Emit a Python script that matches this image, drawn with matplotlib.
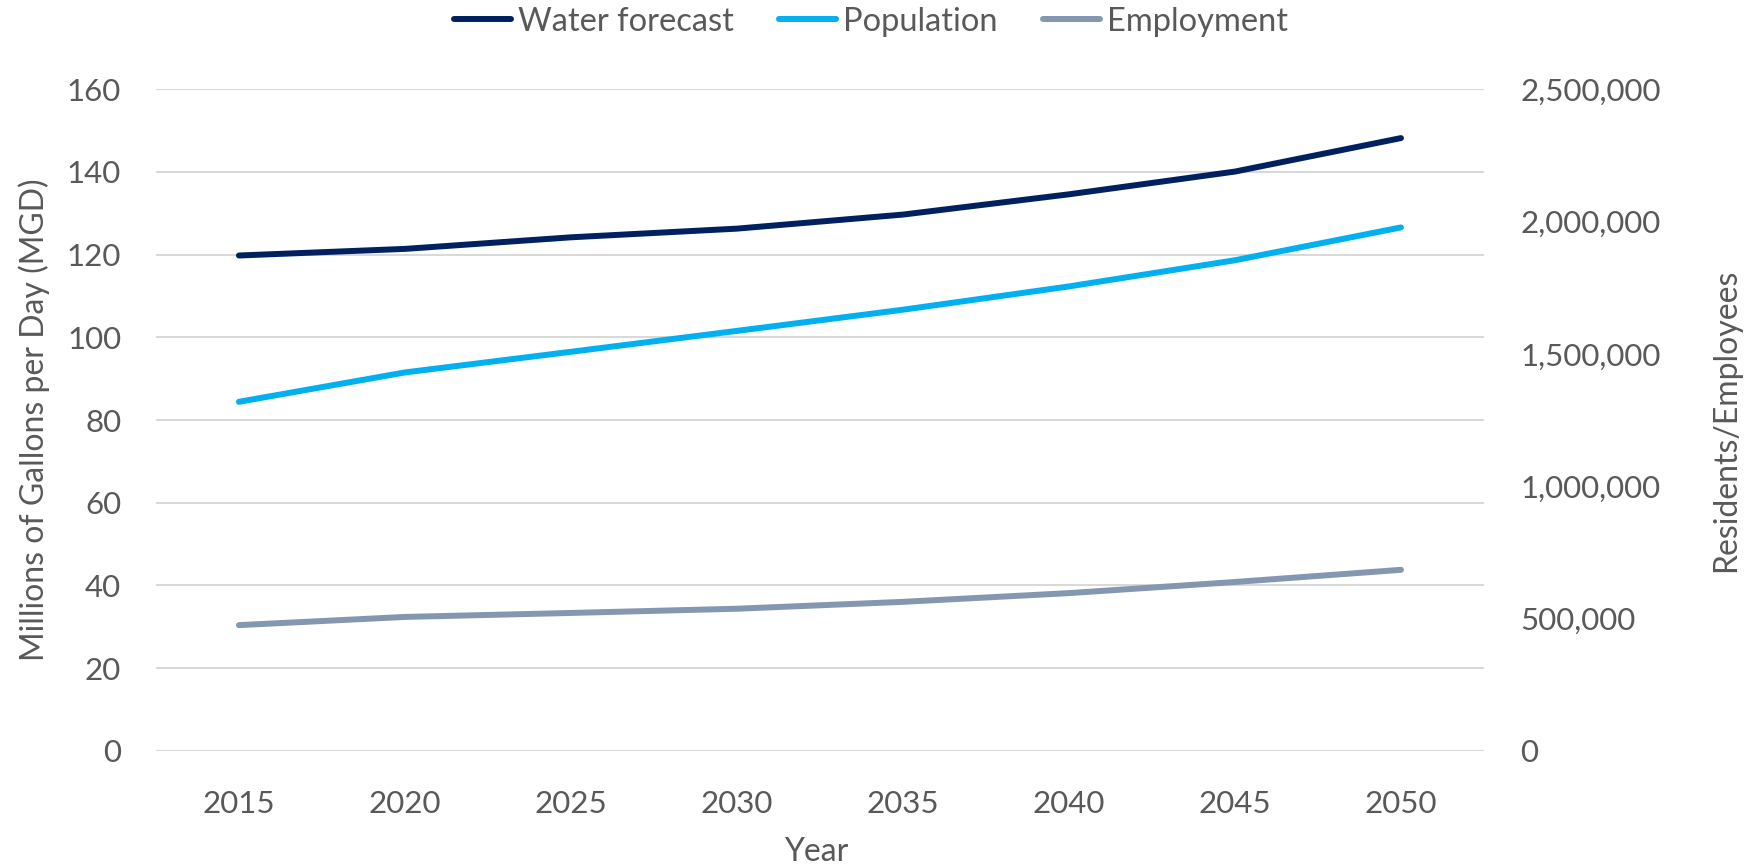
import numpy as np
import matplotlib.pyplot as plt

plt.rcParams['font.family'] = ['Lato', 'DejaVu Sans']

# data
years = [2015, 2020, 2025, 2030, 2035, 2040, 2045, 2050]
water_mgd = [119.8, 121.4, 124.2, 126.3, 129.7, 134.6, 140.1, 148.2]
population = [1319000, 1430000, 1508000, 1587000, 1667000, 1755000, 1854000, 1978000]
employment = [475000, 506000, 521000, 537000, 563000, 596000, 638000, 684000]

left_ticks = [0, 20, 40, 60, 80, 100, 120, 140, 160]
right_ticks = [0, 500000, 1000000, 1500000, 2000000, 2500000]

navy = '#002060'
cyan = '#00B0F0'
slate = '#8497B0'
txt = '#595959'
grid = '#D9D9D9'

fig = plt.figure(figsize=(17.52, 8.67), dpi=100)
ax = fig.add_axes([0.089, 0.134, 0.758, 0.763])
ax2 = ax.twinx()

x = np.arange(len(years))

l1, = ax.plot(x, water_mgd, color=navy, lw=4.3, solid_capstyle='round', zorder=3)
l2, = ax2.plot(x, population, color=cyan, lw=4.3, solid_capstyle='round', zorder=3)
l3, = ax2.plot(x, employment, color=slate, lw=4.3, solid_capstyle='round', zorder=3)

ax.set_xlim(-0.5, len(years) - 0.5)
ax.set_ylim(0, 160)
ax2.set_ylim(0, 2500000)
ax.set_yticks(left_ticks)
ax2.set_yticks(right_ticks)
ax2.set_yticklabels([f'{v:,}' for v in right_ticks])
ax.set_xticks(x)
ax.set_xticklabels([str(y) for y in years])

ax.grid(axis='y', color=grid, lw=1.5)
ax.set_axisbelow(True)
for a in (ax, ax2):
    for s in a.spines.values():
        s.set_visible(False)
ax.tick_params(axis='both', length=0, labelsize=22.5, colors=txt)
ax.tick_params(axis='x', pad=28)
ax.tick_params(axis='y', pad=25)
ax2.tick_params(axis='y', length=0, labelsize=22.5, colors=txt, pad=26)

ax.set_ylabel('Millions of Gallons per Day (MGD)', fontsize=23, color=txt, va='center')
ax.yaxis.set_label_coords(-0.0915, 0.5)
ax2.set_ylabel('Residents/Employees', fontsize=23, color=txt, va='center')
ax2.yaxis.set_label_coords(1.182, 0.5)
ax.set_xlabel('Year', fontsize=23, color=txt, va='top')
ax.xaxis.set_label_coords(0.497, -0.130)

fig.legend([l1, l2, l3], ['Water forecast', 'Population', 'Employment'],
           loc='center', bbox_to_anchor=(0.497, 0.975), ncol=3, frameon=False,
           fontsize=23.5, labelcolor=txt, handlelength=1.75, handletextpad=0.2,
           columnspacing=1.4)

fig.savefig('out.png', dpi=100)
